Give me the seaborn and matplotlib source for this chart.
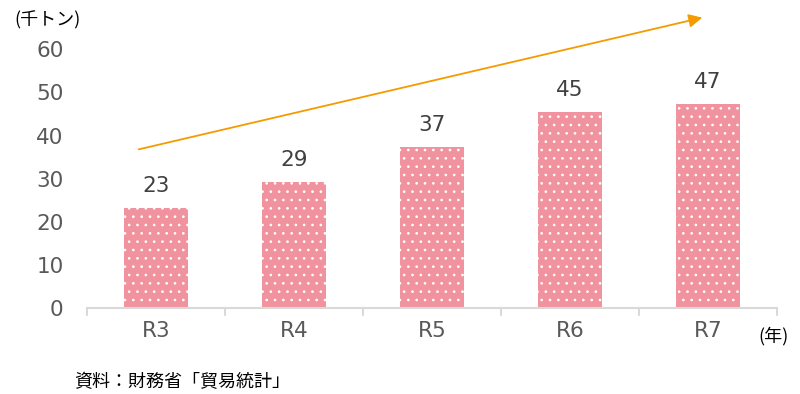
import matplotlib
matplotlib.use("Agg")
import matplotlib.pyplot as plt
import seaborn as sns
import pandas as pd

years = ["R3", "R4", "R5", "R6", "R7"]
volumes = [23.1, 29.2, 37.4, 45.4, 47.4]
y_ticks = [0, 10, 20, 30, 40, 50, 60]

sns.set_theme(style="white")
plt.rcParams["font.family"] = ["Noto Sans CJK JP", "DejaVu Sans"]
plt.rcParams["hatch.linewidth"] = 0.7

df = pd.DataFrame({"year": years, "volume": volumes})

fig = plt.figure(figsize=(8, 3.94), dpi=100)
ax = fig.add_axes([0.109, 0.218, 0.862, 0.657])

sns.barplot(data=df, x="year", y="volume", color="#F0939E", saturation=1,
            width=0.46, ax=ax)
# white dotted fill: hatch colour follows the edge colour, edge itself hidden
for patch in ax.patches:
    patch.set_edgecolor("white")
    patch.set_linewidth(0)
    patch.set_hatch("..")

for i, v in enumerate(volumes):
    ax.text(i, v + 2.8, f"{v:.0f}", ha="center", va="bottom",
            fontsize=15.5, color="#404040", family="DejaVu Sans")

ax.set_ylim(0, 60)
ax.set_xlim(-0.5, len(years) - 0.5)
ax.set_yticks(y_ticks)
ax.set_yticklabels([str(t) for t in y_ticks], family="DejaVu Sans")
ax.set_xlabel("")
ax.set_ylabel("")
ax.tick_params(axis="y", length=0, labelsize=15.5, labelcolor="#595959", pad=17)
ax.tick_params(axis="x", length=0, labelsize=15.5, labelcolor="#595959", pad=9)
for lbl in ax.get_xticklabels():
    lbl.set_family("DejaVu Sans")

for side in ["top", "right", "left"]:
    ax.spines[side].set_visible(False)
ax.spines["bottom"].set_color("#D9D9D9")
ax.spines["bottom"].set_linewidth(1.5)

# category boundary ticks below the axis line
for b in [i - 0.5 for i in range(len(years) + 1)]:
    ax.plot([b, b], [0, -1.6], color="#D9D9D9", lw=1.5, clip_on=False)

# trend arrow
fig.patches.append(matplotlib.patches.FancyArrowPatch(
    (136 / 800, 1 - 150 / 394), (705 / 800, 1 - 17 / 394),
    transform=fig.transFigure, arrowstyle="-|>", mutation_scale=20,
    color="#F59B00", lw=1.3))

fig.text(14 / 800, 1 - 20 / 394, "(千トン)", fontsize=13, color="#000000",
         va="center", ha="left")
fig.text(758 / 800, 1 - 336 / 394, "(年)", fontsize=13, color="#000000",
         va="center", ha="left")
fig.text(74 / 800, 1 - 382 / 394, "資料：財務省「貿易統計」", fontsize=13,
         color="#000000", va="center", ha="left")

fig.savefig("out.png", dpi=100)
